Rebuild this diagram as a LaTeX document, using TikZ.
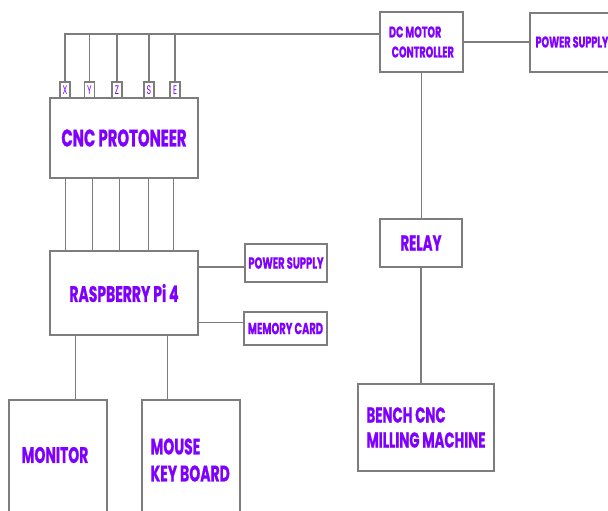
\documentclass[tikz,border=0pt]{standalone}
\usepackage{fontspec}
\setmainfont{Poppins}[FakeStretch=0.62, BoldFeatures={FakeBold=0.8}]
\usetikzlibrary{positioning,calc}
\definecolor{txtpurple}{RGB}{127,0,255}
\definecolor{linegray}{RGB}{125,125,125}
\tikzset{
  blk/.style={draw=linegray, line width=1.1pt, rectangle, inner sep=0pt, text=txtpurple, font=\bfseries},
  pin/.style={blk, minimum width=10pt, minimum height=16pt, font=\mdseries\fontsize{12.5}{12.5}\selectfont},
  wire/.style={draw=linegray, line width=1.1pt}
}
\begin{document}
\begin{tikzpicture}[x=1pt,y=-1pt]
\clip (0,0) rectangle (608,511);
\fill[white] (0,0) rectangle (608,511);
% main blocks
\node[blk, minimum width=148pt, minimum height=80pt, font=\bfseries\fontsize{24}{24}\selectfont] (cnc) at (124,138) {CNC PROTONEER};
\node[blk, minimum width=148pt, minimum height=84pt, font=\bfseries\fontsize{22.5}{22.5}\selectfont] (rpi) at (124,293) {RASPBERRY Pi 4};
\node[blk, minimum width=82pt, minimum height=38pt, font=\bfseries\fontsize{16}{16}\selectfont] (ps1) at (286,263) {POWER SUPPLY};
\node[blk, minimum width=83pt, minimum height=33pt, font=\bfseries\fontsize{16}{16}\selectfont] (mem) at (285.5,328.5) {MEMORY CARD};
\node[blk, minimum width=98pt, minimum height=116pt] (mon) at (58,458) {};
\node[txtpurple, font=\bfseries\fontsize{22.5}{22.5}\selectfont] (montxt) at (55,455) {MONITOR};
\node[blk, minimum width=98pt, minimum height=116pt] (kb) at (191,458) {};
\node[txtpurple, font=\bfseries\fontsize{22.5}{27}\selectfont, align=left, anchor=west] (kbtxt) at (147,460) {MOUSE\\KEY BOARD};
\node[blk, minimum width=83pt, minimum height=60pt, font=\bfseries\fontsize{15.5}{20}\selectfont, align=left] (dc) at (421.5,42) {DC MOTOR\\ \,CONTROLLER};
\node[blk, minimum width=82pt, minimum height=59pt] (ps2) at (571,42.5) {};
\node[txtpurple, font=\bfseries\fontsize{15.5}{15.5}\selectfont, anchor=west] (ps2txt) at (532,42) {POWER SUPPLY};
\node[blk, minimum width=82pt, minimum height=48pt, font=\bfseries\fontsize{21.5}{21.5}\selectfont] (relay) at (421,243) {RELAY};
\node[blk, minimum width=136pt, minimum height=87pt, font=\bfseries\fontsize{21.5}{25}\selectfont, align=left] (bench) at (426,427.5) {BENCH CNC\\MILLING MACHINE};
% pins
\node[pin] (px) at (65,90) {X};
\node[pin] (py) at (89.5,90) {Y};
\node[pin] (pz) at (117,90) {Z};
\node[pin] (ps) at (149,90) {S};
\node[pin] (pe) at (175,90) {E};
% top bus
\coordinate (bus) at ([yshift=8pt]dc.west);
\draw[wire] (px.north) |- (bus);
\foreach \p in {py,pz,ps,pe} \draw[wire] (\p.north) -- (\p.north |- bus);
% cnc to rpi
\foreach \dx in {16,43,70,99,124}
  \draw[wire] ([xshift=\dx pt]cnc.south west) -- ([xshift=\dx pt]rpi.north west);
% rpi peripherals
\draw[wire] ([yshift=-4pt]ps1.west) -- ([yshift=-4pt]ps1.west -| rpi.east);
\draw[wire] ([yshift=6pt]mem.west) -- ([yshift=6pt]mem.west -| rpi.east);
\draw[wire] ([xshift=26pt]rpi.south west) -- ([xshift=26pt]rpi.south west |- mon.north);
\draw[wire] ([xshift=118pt]rpi.south west) -- ([xshift=118pt]rpi.south west |- kb.north);
% dc motor side
\draw[wire] (dc.east) -- (dc.east -| ps2.west);
\draw[wire] (dc.south) -- (dc.south |- relay.north);
\draw[wire] (relay.south) -- (relay.south |- bench.north);
\end{tikzpicture}
\end{document}
